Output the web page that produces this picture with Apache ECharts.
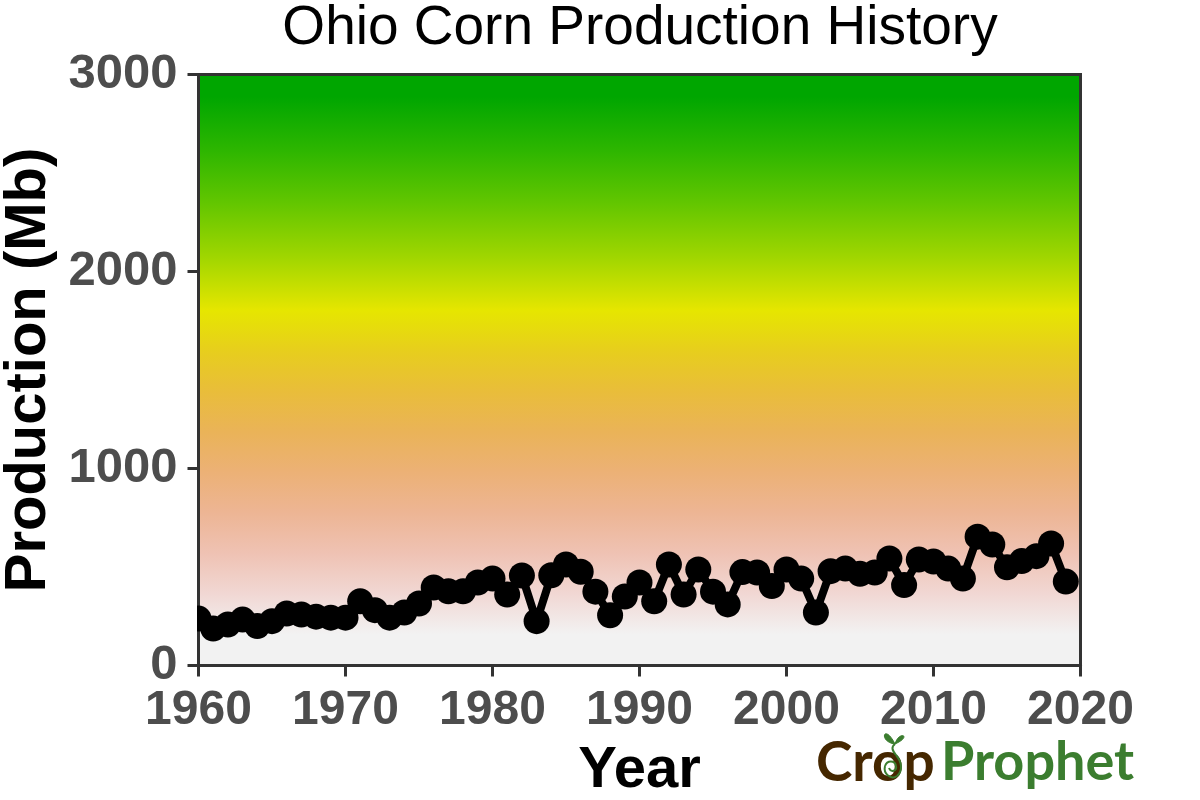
<!DOCTYPE html>
<html>
<head>
<meta charset="utf-8">
<style>html,body{margin:0;padding:0;background:#fff}#main{width:1200px;height:800px}</style>
<script src="https://cdn.jsdelivr.net/npm/echarts@6/dist/echarts.min.js"></script>
</head>
<body>
<div id="main"></div>
<script>
var years = [1960,1961,1962,1963,1964,1965,1966,1967,1968,1969,1970,1971,1972,1973,1974,1975,1976,1977,1978,1979,
  1980,1981,1982,1983,1984,1985,1986,1987,1988,1989,1990,1991,1992,1993,1994,1995,1996,1997,1998,1999,
  2000,2001,2002,2003,2004,2005,2006,2007,2008,2009,2010,2011,2012,2013,2014,2015,2016,2017,2018,2019];
var production = [238,188,208,233,200,225,264,259,248,243,243,326,281,243,269,315,396,377,377,421,
  441,360,457,225,458,513,476,375,255,350,421,326,513,360,487,375,310,474,472,403,
  487,441,269,479,492,466,472,543,408,538,528,492,441,654,614,499,530,555,619,426];

var fontFam = '"Liberation Sans", Arial, sans-serif';
var logoFont = 'Lato, "Open Sans", sans-serif';
var logoGreen = '#3b7d2f';
var myChart = echarts.init(document.getElementById('main'));

// same colours as R terrain.colors, interpolated in hsv
var bgGradient = new echarts.graphic.LinearGradient(0, 0, 0, 1, [
  {offset: 0, color: '#00a600'},
  {offset: 0.04, color: '#00a600'},
  {offset: 0.13, color: '#2db600'},
  {offset: 0.22, color: '#63c600'},
  {offset: 0.31, color: '#a0d600'},
  {offset: 0.40, color: '#e6e600'},
  {offset: 0.468, color: '#e7ce1d'},
  {offset: 0.536, color: '#e9bd3a'},
  {offset: 0.604, color: '#eab358'},
  {offset: 0.672, color: '#ecb176'},
  {offset: 0.74, color: '#edb594'},
  {offset: 0.808, color: '#efc2b3'},
  {offset: 0.876, color: '#f1d7d3'},
  {offset: 0.945, color: '#f2f2f2'},
  {offset: 1, color: '#f2f2f2'}
]);

function sproutLine(x1, y1, cpx1, cpy1, cpx2, cpy2, x2, y2) {
  return {type: 'bezierCurve', z: 11,
    shape: {x1: x1, y1: y1, cpx1: cpx1, cpy1: cpy1, cpx2: cpx2, cpy2: cpy2, x2: x2, y2: y2},
    style: {fill: null, stroke: logoGreen, lineWidth: 2}};
}
function sproutLeaf(cpx1, cpy1, cpx2, cpy2) {
  return {type: 'bezierCurve', z: 11,
    shape: {x1: 895, y1: 744, cpx1: cpx1, cpy1: cpy1, cpx2: cpx2, cpy2: cpy2, x2: 895, y2: 744},
    style: {fill: logoGreen, stroke: logoGreen, lineWidth: 1}};
}

var option = {
  animation: false,
  backgroundColor: '#fff',
  title: {
    text: 'Ohio Corn Production History',
    left: 635, top: -4, textAlign: 'center',
    textStyle: {fontFamily: fontFam, fontWeight: 'normal', fontSize: 55, color: '#000'}
  },
  grid: {
    left: 198.5, top: 74.5, width: 882, height: 591,
    outerBoundsMode: 'none',
    show: true, backgroundColor: bgGradient, borderColor: '#333', borderWidth: 3
  },
  xAxis: {
    type: 'value', min: 1960, max: 2020, interval: 10,
    name: 'Year', nameLocation: 'middle', nameGap: 76,
    nameTextStyle: {fontFamily: fontFam, fontWeight: 'bold', fontSize: 58, color: '#000'},
    axisLine: {show: true, lineStyle: {color: '#333', width: 3}},
    axisTick: {show: true, length: 11, lineStyle: {color: '#333', width: 3}},
    axisLabel: {fontFamily: fontFam, fontWeight: 'bold', fontSize: 48, color: '#4d4d4d', margin: 21, showMinLabel: true, showMaxLabel: true,
      formatter: function (v) { return String(v); }},
    splitLine: {show: false}
  },
  yAxis: {
    type: 'value', min: 0, max: 3000, interval: 1000,
    name: 'Production (Mb)', nameLocation: 'middle', nameGap: 140, nameRotate: 90,
    nameTextStyle: {fontFamily: fontFam, fontWeight: 'bold', fontSize: 58, color: '#000'},
    axisLine: {show: true, lineStyle: {color: '#333', width: 3}},
    axisTick: {show: true, length: 11, lineStyle: {color: '#333', width: 3}},
    axisLabel: {fontFamily: fontFam, fontWeight: 'bold', fontSize: 49, color: '#4d4d4d', margin: 21, padding: [14, 0, 0, 0],
      formatter: function (v) { return String(v); }},
    splitLine: {show: false}
  },
  series: [{
    type: 'line',
    data: years.map(function (y, i) { return [y, production[i]]; }),
    symbol: 'circle', symbolSize: 26, showSymbol: true,
    showAllSymbol: true,
    lineStyle: {color: '#000', width: 8},
    itemStyle: {color: '#000'},
    z: 3
  }],
  graphic: [
    // first marker is cut off by the panel edge in the original
    {type: 'rect', z: 5, shape: {x: 180, y: 600, width: 17, height: 45}, style: {fill: '#fff'}},
    {type: 'text', x: 816, y: 736, z: 10,
      style: {text: 'Crop', fontFamily: logoFont, fontWeight: 'bold', fontSize: 55, fill: '#452700'}},
    {type: 'text', x: 941, y: 736, z: 10,
      style: {text: 'Prophet', fontFamily: logoFont, fontWeight: 'bold', fontSize: 54, fill: logoGreen}},
    // sprout growing out of the o
    sproutLine(889, 768, 891, 773, 897, 771, 896, 766),
    sproutLine(896, 766, 895, 760, 887, 760, 885, 766),
    sproutLine(885, 766, 883, 774, 891, 780, 897, 776),
    sproutLine(897, 776, 903, 771, 902, 762, 896, 755),
    sproutLine(896, 755, 892, 750, 891, 747, 895, 744),
    sproutLeaf(878, 742, 884, 722),
    sproutLeaf(899, 730, 913, 736)
  ]
};
myChart.setOption(option);
</script>
</body>
</html>
